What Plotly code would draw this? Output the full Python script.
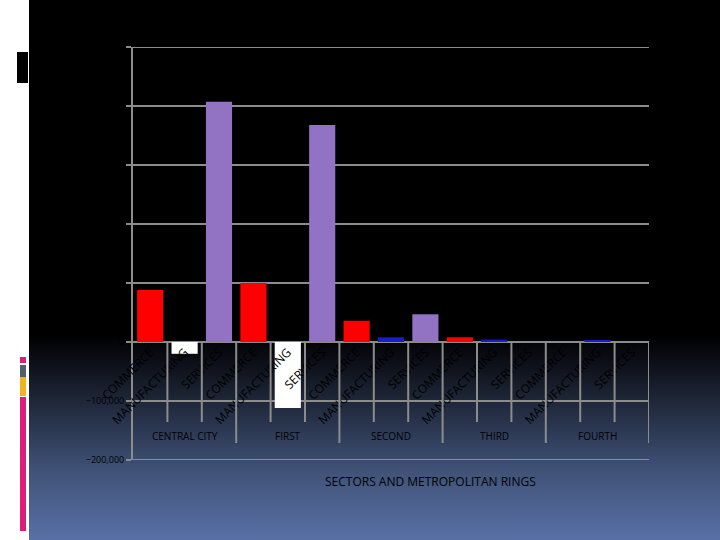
import base64
import plotly.graph_objects as go

# ---------------- data ----------------
rings = ["CENTRAL CITY", "FIRST", "SECOND", "THIRD", "FOURTH"]
sectors = ["COMMERCE", "MANUFACTURING", "SERVICES"]
commerce = [88000, 100000, 36000, 8000, 0]
manufacturing = [-20000, -112000, 8000, 4000, 2000]
services = [407000, 368000, 47000, 0, 0]
y_ticks = [-200000, -100000, 0, 100000, 200000, 300000, 400000, 500000]
x_title = "SECTORS AND METROPOLITAN RINGS"

# ---------------- layout helpers ----------------
W, H = 720, 540
L, R, T, B = 133, 71, 47, 80
PW, PH = W - L - R, H - T - B


def px_x(px):
    return (px - L) / PW


def px_y(py):
    return (H - B - py) / PH


series = [(commerce, "#ff0000", "#ff0000"),
          (manufacturing, "#1a1ad0", "#ffffff"),
          (services, "#9272c2", "#9272c2")]

fig = go.Figure()
for s_idx, (vals, pos_col, neg_col) in enumerate(series):
    xs = [g * 3 + s_idx for g in range(len(rings))]
    cols = [pos_col if v >= 0 else neg_col for v in vals]
    fig.add_trace(go.Bar(
        x=xs, y=vals, name=sectors[s_idx], width=0.76,
        marker=dict(color=cols, line=dict(width=0)),
        showlegend=False))

n = len(rings) * len(sectors)
tickvals = list(range(n))
ticktext = [sectors[i % 3] for i in range(n)]

ymin, ymax = y_ticks[0], y_ticks[-1]
zero_frac = (0 - ymin) / (ymax - ymin)

grid_col = "#8c8c8c"

# background gradient image (svg), intrinsic size equal to the drawn size
BG_W, BG_H = W - 29, H
svg = (
    f'<svg xmlns="http://www.w3.org/2000/svg" width="{BG_W}" height="{BG_H}" '
    f'viewBox="0 0 {BG_W} {BG_H}" preserveAspectRatio="none">'
    '<defs><linearGradient id="g" x1="0" y1="0" x2="0" y2="1">'
    '<stop offset="0" stop-color="#000000"/>'
    '<stop offset="0.62" stop-color="#000000"/>'
    '<stop offset="0.68" stop-color="#0f121c"/>'
    '<stop offset="0.74" stop-color="#1e2637"/>'
    '<stop offset="0.80" stop-color="#2d3a55"/>'
    '<stop offset="0.865" stop-color="#3e5073"/>'
    '<stop offset="0.926" stop-color="#4b5f8c"/>'
    '<stop offset="1" stop-color="#5870a5"/>'
    '</linearGradient></defs>'
    f'<rect x="0" y="0" width="{BG_W}" height="{BG_H}" fill="url(#g)"/></svg>'
)
src = "data:image/svg+xml;base64," + base64.b64encode(svg.encode()).decode()

fig.add_layout_image(dict(
    source=src, xref="paper", yref="paper",
    x=px_x(29), y=px_y(0), sizex=px_x(W) - px_x(29), sizey=px_y(0) - px_y(H),
    xanchor="left", yanchor="top", sizing="stretch", layer="below"))

shapes = []
# top and bottom gridlines (at the range edges)
for yv in (ymin, ymax):
    shapes.append(dict(type="line", xref="paper", yref="y", x0=0, x1=1,
                       y0=yv, y1=yv, line=dict(color=grid_col, width=2),
                       layer="below"))
# vertical category dividers below the zero line
for k in range(1, n + 1):
    xb = k - 0.5
    long_div = (k % 3 == 0)
    y_end = px_y(443) if long_div else px_y(422)
    shapes.append(dict(type="line", xref="x", yref="paper", x0=xb, x1=xb,
                       y0=zero_frac, y1=y_end,
                       line=dict(color=grid_col, width=2), layer="above"))


# left decorative elements
def rect(x0, x1, y0, y1, color):
    return dict(type="rect", xref="paper", yref="paper",
                x0=px_x(x0), x1=px_x(x1), y0=px_y(y0), y1=px_y(y1),
                fillcolor=color, line=dict(width=0), layer="below")


shapes += [
    rect(17, 28, 52, 83, "#000000"),
    rect(20, 26, 357, 363, "#dc1e78"),
    rect(20, 26, 365, 377, "#505f6e"),
    rect(20, 26, 377, 396, "#f0b41e"),
    rect(20, 26, 397, 531, "#dc1e78"),
]

annotations = []
for g, name in enumerate(rings):
    annotations.append(dict(
        x=g * 3 + 1, y=px_y(436), xref="x", yref="paper", text=name,
        showarrow=False, font=dict(family="Open Sans", size=10, color="#000000"),
        xanchor="center", yanchor="middle"))
annotations.append(dict(
    x=px_x(430), y=px_y(481), xref="paper", yref="paper", text=x_title,
    showarrow=False, font=dict(family="Open Sans", size=12, color="#000000"),
    xanchor="center", yanchor="middle"))

fig.update_layout(
    width=W, height=H,
    margin=dict(l=L, r=R, t=T, b=B, pad=0),
    paper_bgcolor="#ffffff",
    plot_bgcolor="rgba(0,0,0,0)",
    barmode="overlay",
    shapes=shapes,
    annotations=annotations,
    xaxis=dict(
        range=[-0.5, n - 0.5], tickmode="array", tickvals=tickvals, ticktext=ticktext,
        tickangle=-45, tickfont=dict(family="Open Sans", size=12, color="#000000"),
        showgrid=False, zeroline=False, showline=False, ticks="",
        anchor="free", position=zero_frac,
    ),
    yaxis=dict(
        range=[ymin, ymax], tickmode="array", tickvals=y_ticks,
        tickformat=",", tickfont=dict(family="Open Sans", size=9, color="#000000"),
        showgrid=True, gridcolor=grid_col, gridwidth=2,
        zeroline=False, showline=True, linecolor=grid_col, linewidth=2,
        ticks="outside", ticklen=5, tickcolor=grid_col, tickwidth=2,
    ),
)

fig.write_html("out.html", config={"displayModeBar": False},
               post_script="document.body.style.margin='0';")
